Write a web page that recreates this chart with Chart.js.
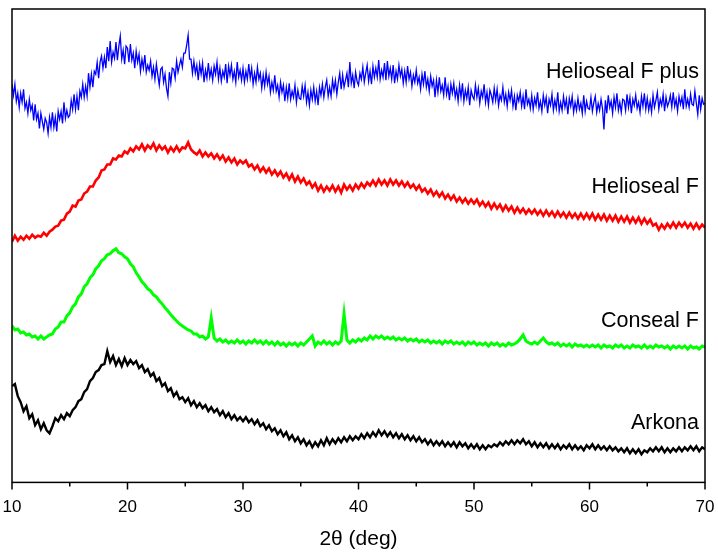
<!DOCTYPE html>
<html lang="en">
<head>
  <meta charset="UTF-8">
  <title>XRD patterns</title>
  <style>
    html, body { margin: 0; padding: 0; background: #fff; overflow: hidden; }
    #wrap { width: 718px; height: 555px; position: relative; }
    canvas { display: block; }
  </style>
  <script src="https://cdn.jsdelivr.net/npm/chart.js"></script>
</head>
<body>
  <div id="wrap"><canvas id="grafico"></canvas></div>

  <script>
    // 2-theta grids (deg)
    const xStart = 10;
    const xStepFino = 0.125; // Helioseal F plus
    const xStep = 0.25;      // the other three
    const xTicks = [10, 20, 30, 40, 50, 60, 70];

    const seriesNames = ['Helioseal F plus', 'Helioseal F', 'Conseal F', 'Arkona'];

    // intensities (arbitrary units, stacked offsets as in the figure)
    const heliosealFPlus = [
      397,386,397,380,388,374,388,379,392,373,379,368,382,371,376,361,377,362,368,353,368,360,352,363,359,348,364,354,369,354,364,350,370,362,370,358,379,363,371,364,
      366,381,372,387,372,385,371,390,384,397,384,395,385,408,394,407,394,410,407,419,403,419,425,413,424,413,434,420,440,419,429,423,439,421,435,445,422,431,417,435,
      433,419,437,421,428,413,430,419,427,410,422,413,426,409,416,411,420,405,414,402,417,406,396,412,414,399,407,393,385,409,398,413,412,403,420,409,416,422,414,428,
      428,436,446,422,422,408,420,408,416,401,417,407,418,399,411,403,418,404,412,401,415,407,419,402,413,400,410,404,417,398,415,406,416,402,410,399,419,404,411,401,
      413,399,410,402,417,403,413,397,408,399,414,402,408,393,406,395,409,397,405,389,399,391,406,390,396,384,399,389,396,380,394,383,398,382,390,384,396,379,391,383,
      382,395,385,396,379,389,376,391,382,394,380,390,376,394,386,397,384,394,401,385,394,385,401,391,401,387,399,408,392,406,394,401,408,394,419,398,406,393,409,400,
      396,408,402,414,399,408,416,400,410,397,415,404,413,404,421,402,411,404,418,401,420,405,413,402,416,398,410,402,416,405,412,398,410,399,415,402,409,395,406,399,
      411,398,404,392,407,397,410,394,402,390,405,395,401,384,401,389,404,390,396,386,404,387,395,381,397,388,398,384,392,380,396,384,398,380,391,383,394,376,391,385,
      382,396,384,393,378,390,384,397,379,389,376,391,386,379,393,381,392,376,386,381,394,379,387,375,389,381,391,375,385,371,386,380,389,375,385,372,392,377,382,373,
      386,372,383,376,389,373,380,370,386,376,384,368,382,376,387,371,381,373,389,370,379,371,385,374,382,367,383,375,385,369,379,371,383,372,378,368,386,370,380,373,
      372,384,370,379,385,369,378,371,382,373,352,381,368,386,374,380,368,384,374,388,371,379,369,382,381,371,387,374,384,368,382,376,386,373,379,369,385,375,388,372,
      383,371,380,369,386,374,381,389,372,382,376,387,370,384,375,379,386,374,389,375,382,370,385,377,384,372,392,375,382,374,387,377,376,390,378,367,386,372,383,377,
      378
    ];
    const heliosealF = [
      240,246,241,245,242,246,243,247,244,246,245,249,246,250,252,255,256,261,262,268,
      270,276,275,281,282,288,290,295,295,301,304,311,312,317,317,323,322,326,325,330,
      328,333,330,335,332,337,331,336,333,338,331,336,332,335,329,334,330,335,330,334,
      333,339,332,329,327,331,325,329,325,328,323,327,322,326,320,324,319,323,317,321,
      318,321,315,317,312,316,310,314,309,313,307,311,306,310,304,308,302,307,300,305,
      299,303,297,300,294,298,291,296,290,295,291,296,290,295,289,297,292,296,291,297,
      293,298,294,299,296,301,296,302,297,301,296,302,297,301,296,300,295,299,294,297,
      292,296,290,293,288,292,286,290,285,289,283,287,282,286,280,284,279,283,278,282,
      278,282,276,280,275,279,273,278,273,277,271,276,271,275,269,274,269,273,268,272,
      268,272,267,271,266,271,266,270,265,270,265,269,264,269,264,268,263,268,263,268,
      263,268,262,267,262,267,261,266,261,266,260,265,260,265,259,264,259,264,258,263,
      258,262,256,258,252,257,253,258,254,259,254,259,255,259,254,258,253,258,253,257,
      254
    ];
    const consealF = [
      156,152,153,149,150,147,148,145,146,143,146,143,145,147,148,153,155,160,160,166,
      169,175,178,185,188,195,198,204,207,213,216,221,223,227,228,231,233,229,228,225,
      223,218,215,209,205,200,197,193,191,187,185,181,178,174,171,167,164,161,158,156,
      154,152,151,148,148,145,146,143,145,164,144,141,143,140,142,139,141,139,142,139,
      141,138,141,139,142,139,141,138,141,138,140,137,140,137,139,136,139,137,139,136,
      139,137,140,143,146,136,140,138,141,138,140,137,140,138,141,168,142,139,142,140,
      143,141,144,142,146,143,146,144,146,143,145,143,145,142,144,142,144,141,143,141,
      143,140,142,140,142,139,141,139,141,138,141,139,141,138,140,138,140,137,140,138,
      140,137,139,137,139,136,139,137,139,136,138,136,139,137,138,140,143,147,141,139,
      138,140,138,141,144,140,138,139,137,139,136,138,136,138,135,138,136,137,135,137,
      135,137,135,137,134,137,135,136,134,137,135,137,134,136,134,137,135,136,134,137,
      134,136,134,137,135,136,134,136,133,136,134,136,134,136,133,136,134,135,133,136,
      135
    ];
    const arkona = [
      96,98,86,80,71,76,64,68,57,62,53,59,52,49,56,64,61,67,63,69,
      66,72,75,81,83,90,93,101,104,110,112,117,118,131,120,126,117,123,116,124,
      117,122,118,121,114,117,110,113,106,109,101,104,96,99,91,94,86,90,83,85,
      80,84,77,81,75,79,74,77,71,75,70,73,67,71,65,69,63,67,62,65,
      61,65,60,63,58,62,56,59,53,57,51,54,48,52,46,50,43,47,41,45,
      39,43,37,41,35,40,36,42,37,44,38,43,39,44,40,45,41,46,42,46,
      43,48,44,49,45,50,46,52,47,51,46,50,45,49,44,48,43,47,42,46,
      41,45,40,43,38,42,37,41,37,41,36,40,36,40,35,40,36,39,34,38,
      34,38,33,37,33,37,35,38,36,40,37,41,38,42,38,42,39,43,38,41,
      36,40,35,39,35,39,34,38,34,38,33,37,34,38,33,37,33,36,32,37,
      34,38,33,37,33,36,32,36,32,35,31,34,30,34,29,33,29,33,28,32,
      30,34,31,35,31,35,30,34,30,34,31,35,31,35,32,36,32,36,31,35,
      33
    ];

    const seriesData = [heliosealFPlus, heliosealF, consealF, arkona];
    const seriesSteps = [xStepFino, xStep, xStep, xStep];
    const seriesColors = ['#0000ff', '#ff0000', '#00ff00', '#000000'];
    const seriesWidths = [1.3, 2.6, 3, 2.4];
    // where each name sits (data units)
    const labelY = [409, 294, 161, 59];

    const fuente = "'Liberation Sans', Arial, sans-serif";

    const marco = {
      id: 'marco',
      afterDraw(chart) {
        const { ctx, chartArea: a, scales } = chart;
        ctx.save();
        ctx.strokeStyle = '#000';
        ctx.lineWidth = 1.5;
        ctx.strokeRect(a.left, a.top, a.right - a.left, a.bottom - a.top);
        // ticks, major every 10, minor every 5
        ctx.beginPath();
        for (let v = 10; v <= 70; v += 5) {
          const px = scales.x.getPixelForValue(v);
          const len = v % 10 === 0 ? 7 : 4;
          ctx.moveTo(px, a.bottom);
          ctx.lineTo(px, a.bottom + len);
        }
        ctx.stroke();
        // series names
        ctx.fillStyle = '#000';
        ctx.font = '21.5px ' + fuente;
        ctx.textAlign = 'right';
        ctx.textBaseline = 'middle';
        seriesNames.forEach((n, i) => {
          ctx.fillText(n, a.right - 6, scales.y.getPixelForValue(labelY[i]));
        });
        ctx.restore();
      }
    };

    new Chart(document.getElementById('grafico'), {
      type: 'line',
      data: {
        datasets: seriesData.map((arr, i) => ({
          label: seriesNames[i],
          data: arr.map((y, k) => ({ x: xStart + k * seriesSteps[i], y: y })),
          borderColor: seriesColors[i],
          borderWidth: seriesWidths[i],
          pointRadius: 0,
          tension: 0,
          fill: false
        }))
      },
      options: {
        responsive: true,
        maintainAspectRatio: false,
        animation: false,
        layout: { padding: { left: 12, right: 13, top: 9, bottom: 0 } },
        plugins: {
          legend: { display: false },
          tooltip: { enabled: false }
        },
        scales: {
          x: {
            type: 'linear',
            min: 10,
            max: 70,
            afterBuildTicks: s => { s.ticks = xTicks.map(v => ({ value: v })); },
            afterFit: s => { s.paddingLeft = 0; s.paddingRight = 0; },
            grid: { display: false, drawTicks: false },
            border: { display: false },
            ticks: { color: '#000', padding: 15, font: { family: fuente, size: 17 }, maxRotation: 0 },
            title: {
              display: true,
              text: '2θ (deg)',
              color: '#000',
              font: { family: fuente, size: 21 },
              padding: { top: -6, bottom: 3 }
            }
          },
          y: {
            display: false,
            min: 0,
            max: 472
          }
        }
      },
      plugins: [marco]
    });
  </script>
</body>
</html>
